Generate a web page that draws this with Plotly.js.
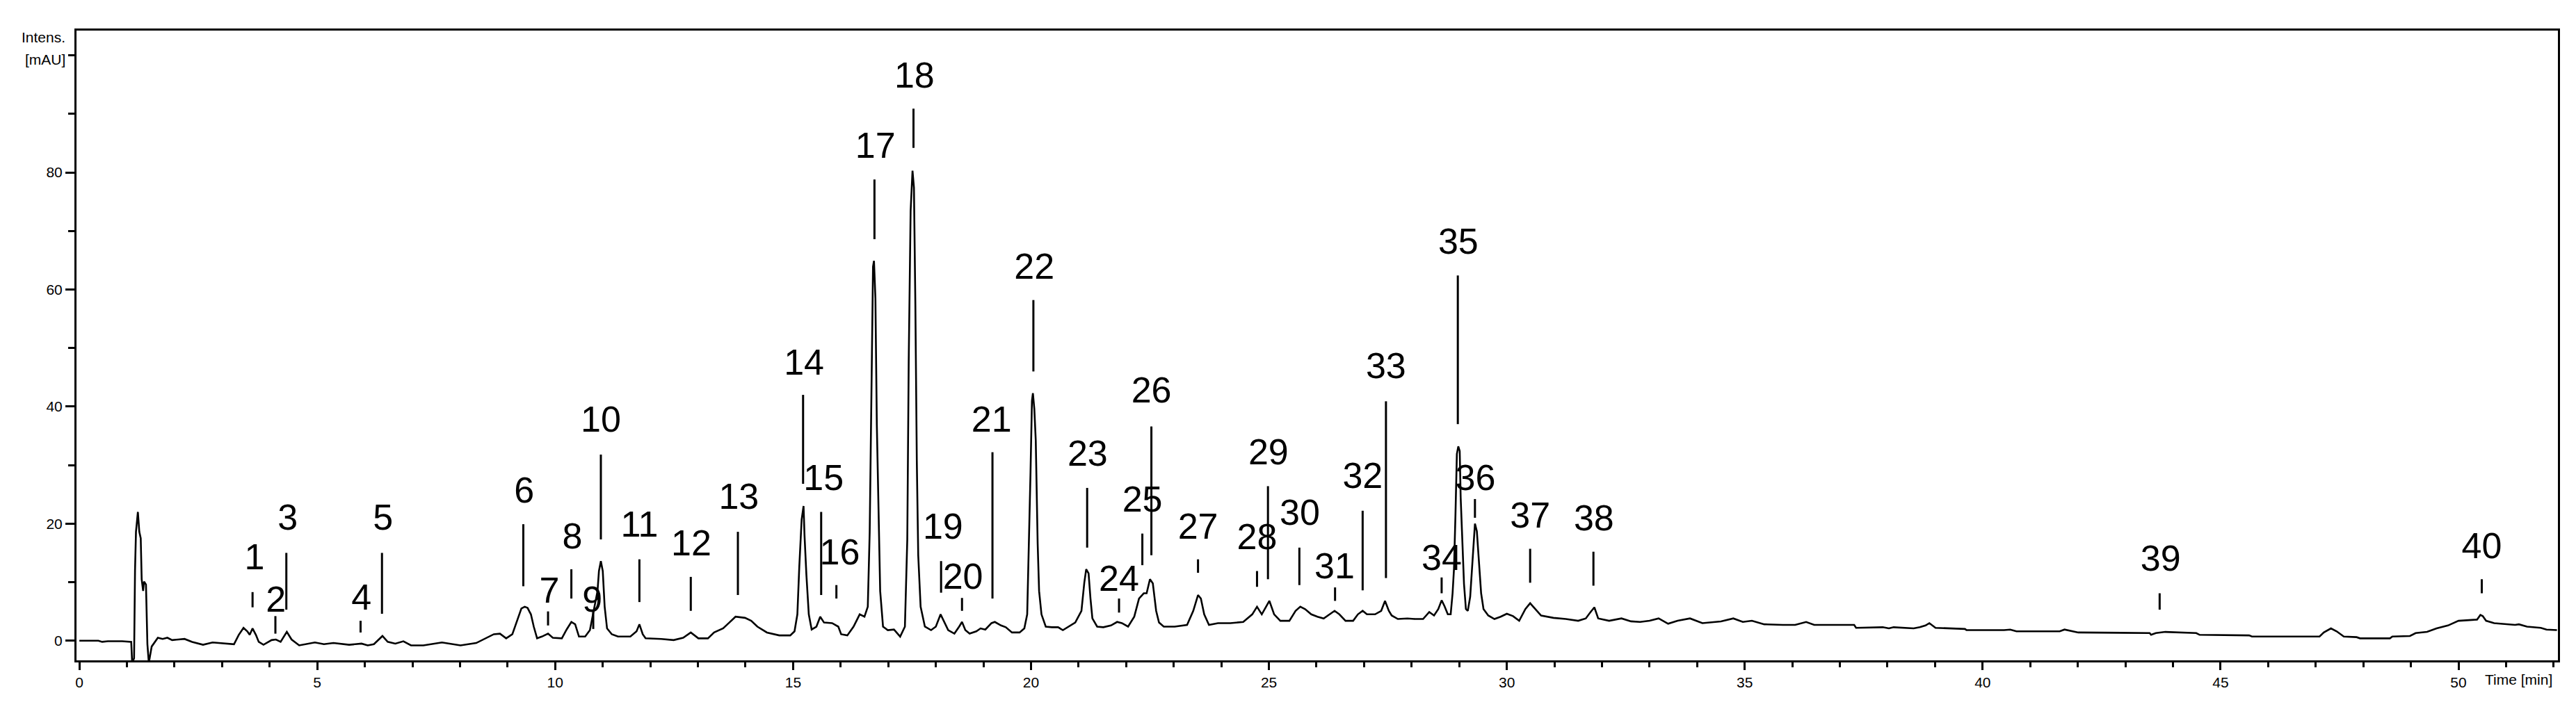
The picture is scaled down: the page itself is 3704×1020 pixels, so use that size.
<!DOCTYPE html>
<html>
<head>
<meta charset="utf-8">
<script src="https://cdn.plot.ly/plotly-3.0.1.min.js"></script>
<style>
  html, body { margin: 0; padding: 0; background: #fff; }
  #chromatogram { width: 3704px; height: 1020px; }
</style>
</head>
<body>
<div id="chromatogram"></div>
<script>
// Chromatogram trace (time in min, intensity in mAU)
let time = [
  0.00, 0.40, 0.48, 0.60, 0.90, 1.09, 1.11, 1.15, 1.17, 1.19, 1.23, 1.26, 1.29, 1.31, 1.34, 1.36, 1.40, 1.43, 1.46, 1.52,
  1.65, 1.75, 1.85, 1.95, 2.21, 2.37, 2.60, 2.80, 3.25, 3.35, 3.45, 3.53, 3.58, 3.64, 3.71, 3.77, 3.87, 4.04, 4.13, 4.23,
  4.36, 4.46, 4.62, 4.95, 5.14, 5.34, 5.67, 5.93, 6.06, 6.19, 6.37, 6.48, 6.64, 6.81, 6.97, 7.23, 7.62, 8.01, 8.34, 8.57,
  8.71, 8.84, 8.97, 9.10, 9.20, 9.29, 9.36, 9.42, 9.49, 9.55, 9.62, 9.72, 9.85, 9.95, 10.14, 10.24, 10.34, 10.42, 10.50, 10.63,
  10.73, 10.79, 10.85, 10.89, 10.92, 10.96, 11.00, 11.04, 11.09, 11.19, 11.32, 11.58, 11.71, 11.77, 11.84, 11.90, 12.23, 12.49, 12.69, 12.85,
  13.01, 13.21, 13.34, 13.53, 13.66, 13.79, 13.99, 14.12, 14.25, 14.45, 14.71, 14.94, 15.03, 15.09, 15.13, 15.18, 15.22, 15.24, 15.28, 15.33,
  15.39, 15.49, 15.57, 15.65, 15.82, 15.95, 16.01, 16.14, 16.27, 16.40, 16.50, 16.57, 16.61, 16.65, 16.68, 16.70, 16.73, 16.76, 16.80, 16.83,
  16.89, 16.99, 17.12, 17.25, 17.35, 17.40, 17.43, 17.47, 17.51, 17.54, 17.57, 17.60, 17.63, 17.68, 17.77, 17.90, 18.00, 18.10, 18.26, 18.39,
  18.49, 18.55, 18.62, 18.71, 18.85, 18.94, 19.04, 19.17, 19.24, 19.37, 19.47, 19.60, 19.76, 19.86, 19.92, 19.95, 19.99, 20.02, 20.04, 20.07,
  20.10, 20.14, 20.17, 20.22, 20.31, 20.44, 20.57, 20.67, 20.80, 20.93, 21.06, 21.12, 21.16, 21.21, 21.25, 21.29, 21.39, 21.52, 21.68, 21.81,
  21.91, 22.04, 22.17, 22.27, 22.37, 22.43, 22.50, 22.56, 22.63, 22.69, 22.79, 23.02, 23.28, 23.41, 23.51, 23.57, 23.64, 23.74, 23.93, 24.19,
  24.46, 24.65, 24.75, 24.85, 24.94, 25.01, 25.11, 25.24, 25.43, 25.56, 25.66, 25.76, 25.89, 26.02, 26.15, 26.28, 26.38, 26.48, 26.61, 26.77,
  26.87, 26.97, 27.06, 27.23, 27.36, 27.44, 27.52, 27.58, 27.71, 27.91, 28.07, 28.24, 28.37, 28.47, 28.56, 28.63, 28.69, 28.76, 28.82, 28.86,
  28.89, 28.92, 28.95, 28.98, 29.01, 29.03, 29.07, 29.10, 29.14, 29.18, 29.23, 29.27, 29.31, 29.33, 29.37, 29.41, 29.46, 29.51, 29.61, 29.74,
  29.87, 30.00, 30.13, 30.26, 30.39, 30.49, 30.59, 30.72, 30.98, 31.24, 31.50, 31.66, 31.76, 31.84, 31.92, 32.15, 32.41, 32.61, 32.80, 33.00,
  33.19, 33.39, 33.59, 33.85, 34.11, 34.50, 34.76, 34.96, 35.15, 35.41, 35.80, 36.06, 36.29, 36.46, 36.72, 37.30, 37.34, 37.90, 38.03, 38.13,
  38.55, 38.68, 38.80, 38.88, 39.01, 39.63, 39.66, 40.45, 40.58, 40.71, 41.62, 41.72, 42.01, 43.51, 43.54, 43.64, 43.84, 44.49, 44.56, 45.60,
  45.66, 47.08, 47.17, 47.32, 47.44, 47.59, 47.86, 47.93, 48.56, 48.61, 48.98, 49.10, 49.34, 49.54, 49.78, 50.00, 50.39, 50.46, 50.51, 50.58,
  50.75, 51.05, 51.19, 51.27, 51.44, 51.73, 51.85, 52.07
];
let intensity = [
  0.0, 0.0, -0.2, -0.1, -0.1, -0.2, -3.8, -3.0, 12.0, 18.6, 22.0, 18.6, 17.5, 10.5, 8.5, 10.1, 9.6, -0.6, -3.8, -1.0,
  0.5, 0.3, 0.5, 0.1, 0.3, -0.2, -0.7, -0.3, -0.6, 1.0, 2.2, 1.6, 1.0, 2.1, 1.0, -0.2, -0.7, 0.1, 0.2, -0.2,
  1.5, 0.2, -0.8, -0.3, -0.6, -0.4, -0.7, -0.5, -0.8, -0.6, 0.8, -0.2, -0.5, -0.1, -0.8, -0.8, -0.3, -0.8, -0.4, 0.5,
  1.1, 1.2, 0.4, 1.1, 3.4, 5.5, 5.8, 5.6, 4.5, 2.4, 0.4, 0.7, 1.2, 0.5, 0.4, 1.9, 3.2, 2.8, 0.7, 0.7,
  1.8, 4.5, 7.2, 8.5, 11.9, 13.6, 11.9, 5.8, 2.1, 1.1, 0.7, 0.7, 1.6, 2.8, 1.1, 0.4, 0.3, 0.1, 0.5, 1.4,
  0.4, 0.4, 1.4, 2.1, 3.1, 4.1, 3.9, 3.4, 2.4, 1.4, 0.9, 0.9, 1.6, 4.5, 12.6, 20.7, 23.0, 18.0, 11.2, 4.5,
  1.9, 2.4, 4.1, 3.1, 3.0, 2.4, 1.1, 0.9, 2.4, 4.5, 4.1, 5.8, 18.6, 45.0, 63.9, 64.9, 58.5, 36.9, 20.7, 8.5,
  2.4, 1.8, 1.9, 0.7, 2.4, 17.3, 47.7, 73.4, 80.3, 77.4, 57.2, 30.8, 14.6, 5.8, 2.4, 1.8, 2.4, 4.5, 1.8, 1.2,
  2.4, 3.2, 1.8, 1.2, 1.6, 2.1, 1.9, 3.0, 3.2, 2.6, 2.3, 1.4, 1.4, 2.1, 4.5, 13.9, 28.8, 41.0, 42.3, 39.6,
  34.2, 16.6, 8.5, 4.5, 2.4, 2.3, 2.3, 1.8, 2.4, 3.1, 5.1, 9.9, 12.2, 11.5, 7.2, 3.8, 2.4, 2.3, 2.6, 3.2,
  3.0, 2.4, 4.1, 7.2, 8.1, 8.1, 10.5, 9.8, 5.1, 3.1, 2.4, 2.4, 2.7, 5.1, 7.8, 7.2, 4.5, 2.7, 3.0, 3.0,
  3.2, 4.5, 5.8, 4.5, 5.8, 6.8, 4.5, 3.4, 3.4, 5.1, 5.8, 5.4, 4.5, 4.1, 3.8, 4.5, 5.1, 4.5, 3.4, 3.4,
  4.5, 5.1, 4.5, 4.5, 5.1, 6.8, 5.1, 4.3, 3.7, 3.8, 3.7, 3.7, 4.9, 4.3, 5.4, 6.9, 5.9, 4.5, 4.5, 8.1,
  12.3, 21.3, 31.9, 33.2, 32.4, 24.5, 16.0, 9.7, 5.4, 5.1, 7.5, 12.3, 18.1, 20.0, 18.7, 13.4, 8.1, 5.4, 4.3, 3.7,
  4.1, 4.6, 4.2, 3.4, 5.4, 6.4, 5.5, 4.3, 3.9, 3.7, 3.4, 3.8, 4.9, 5.7, 3.8, 3.4, 3.8, 3.3, 3.2, 3.4,
  3.8, 2.9, 3.4, 3.8, 3.0, 3.3, 3.8, 3.2, 3.4, 2.8, 2.7, 2.7, 3.2, 2.7, 2.7, 2.7, 2.2, 2.3, 2.1, 2.3,
  2.1, 2.3, 2.6, 3.0, 2.2, 2.0, 1.8, 1.8, 1.9, 1.6, 1.6, 1.9, 1.4, 1.3, 1.0, 1.3, 1.5, 1.3, 1.0, 0.9,
  0.7, 0.7, 1.4, 2.1, 1.6, 0.7, 0.6, 0.4, 0.4, 0.7, 0.8, 1.3, 1.5, 2.1, 2.6, 3.4, 3.6, 4.4, 4.2, 3.4,
  3.0, 2.8, 2.7, 2.8, 2.4, 2.2, 1.9, 1.8
];

// Peak labels: number, marker line position and extent, text position
let peakNo = ["1", "2", "3", "4", "5", "6", "7", "8", "9", "10",
  "11", "12", "13", "14", "15", "16", "17", "18", "19", "20",
  "21", "22", "23", "24", "25", "26", "27", "28", "29", "30",
  "31", "32", "33", "34", "35", "36", "37", "38", "39", "40"];
let lineT = [3.64, 4.12, 4.35, 5.91, 6.36, 9.33, 9.85, 10.34, 10.80, 10.96,
  11.77, 12.85, 13.84, 15.21, 15.59, 15.91, 16.71, 17.53, 18.11, 18.55,
  19.19, 20.05, 21.18, 21.85, 22.34, 22.53, 23.51, 24.75, 24.98, 25.64,
  26.39, 26.97, 27.46, 28.63, 28.97, 29.33, 30.49, 31.82, 43.72, 50.49];
let lineTop = [8.3, 4.2, 15.0, 3.4, 15.0, 19.9, 5.0, 12.2, 5.0, 31.8,
  13.9, 10.9, 18.6, 42.0, 22.0, 9.5, 78.8, 90.9, 13.6, 7.3,
  32.2, 58.2, 26.1, 7.2, 18.3, 36.6, 13.9, 11.9, 26.4, 15.9,
  9.1, 22.2, 40.9, 10.8, 62.4, 24.2, 15.7, 15.2, 8.1, 10.5];
let lineBottom = [5.7, 1.2, 5.3, 1.4, 4.6, 9.3, 2.6, 7.2, 2.0, 17.3,
  6.6, 5.1, 7.8, 26.8, 7.8, 7.2, 68.6, 84.2, 8.2, 5.1,
  7.2, 46.0, 15.9, 4.8, 12.9, 14.6, 11.6, 9.2, 10.5, 9.5,
  6.8, 8.6, 10.7, 8.1, 37.0, 21.0, 9.9, 9.4, 5.3, 8.1];
let textT = [3.68, 4.13, 4.38, 5.93, 6.38, 9.35, 9.88, 10.36, 10.78, 10.96,
  11.77, 12.86, 13.86, 15.23, 15.64, 15.98, 16.73, 17.55, 18.15, 18.57,
  19.17, 20.07, 21.19, 21.85, 22.34, 22.53, 23.51, 24.75, 24.99, 25.65,
  26.38, 26.97, 27.46, 28.63, 28.98, 29.34, 30.49, 31.83, 43.74, 50.49];
let textY = [13.7, 6.5, 20.5, 6.8, 20.5, 25.1, 8.0, 17.3, 6.5, 37.2,
  19.3, 16.1, 24.1, 47.0, 27.3, 14.6, 84.1, 96.0, 19.0, 10.4,
  37.2, 63.4, 31.4, 10.1, 23.6, 42.2, 19.0, 17.2, 31.7, 21.4,
  12.2, 27.6, 46.4, 13.6, 67.7, 27.3, 20.9, 20.4, 13.5, 15.7];

// Axis ticks
let xTicks = [0, 5, 10, 15, 20, 25, 30, 35, 40, 45, 50];
let yTicks = [0, 20, 40, 60, 80];

const FONT = "Liberation Sans, Arial, sans-serif";

function createChromatogram() {
  let markX = [];
  let markY = [];
  for (let i = 0; i < peakNo.length; i++) {
    markX.push(lineT[i], lineT[i], null);
    markY.push(lineBottom[i], lineTop[i], null);
  }

  let traces = [{
    x: time,
    y: intensity,
    type: "scatter",
    mode: "lines",
    line: { color: "#000", width: 2.6 },
    hoverinfo: "skip"
  }, {
    x: markX,
    y: markY,
    type: "scatter",
    mode: "lines",
    line: { color: "#000", width: 3 },
    hoverinfo: "skip"
  }, {
    x: textT,
    y: textY,
    text: peakNo,
    type: "scatter",
    mode: "text",
    textposition: "middle center",
    textfont: { family: FONT, size: 52, color: "#000" },
    hoverinfo: "skip"
  }];

  let layout = {
    width: 3704,
    height: 1020,
    margin: { l: 110, r: 26, t: 44, b: 70 },
    paper_bgcolor: "#fff",
    plot_bgcolor: "#fff",
    showlegend: false,
    hovermode: false,
    font: { family: FONT, size: 21, color: "#000" },
    xaxis: {
      range: [-0.06, 52.09],
      tickmode: "array",
      tickvals: xTicks,
      ticks: "outside",
      ticklen: 11,
      tickwidth: 3,
      tickcolor: "#000",
      showgrid: false,
      zeroline: false,
      showline: true,
      linewidth: 3,
      linecolor: "#000",
      mirror: true,
      tickfont: { family: FONT, size: 21 },
      minor: { tickmode: "linear", tick0: 0, dtick: 1, ticks: "outside", ticklen: 7, tickwidth: 3, tickcolor: "#000", showgrid: false }
    },
    yaxis: {
      range: [-3.36, 104.24],
      tickmode: "array",
      tickvals: yTicks,
      ticks: "outside",
      ticklen: 13,
      tickwidth: 3,
      tickcolor: "#000",
      showgrid: false,
      zeroline: false,
      showline: true,
      linewidth: 3,
      linecolor: "#000",
      mirror: true,
      tickfont: { family: FONT, size: 21 },
      minor: { tickmode: "linear", tick0: 0, dtick: 10, ticks: "outside", ticklen: 9, tickwidth: 3, tickcolor: "#000", showgrid: false }
    },
    annotations: [{
      text: "Intens.",
      xref: "paper", yref: "paper", x: 0, y: 1,
      xanchor: "right", yanchor: "middle", xshift: -14, yshift: -9,
      showarrow: false, font: { family: FONT, size: 21, color: "#000" }
    }, {
      text: "[mAU]",
      xref: "paper", yref: "paper", x: 0, y: 1,
      xanchor: "right", yanchor: "middle", xshift: -14, yshift: -41,
      showarrow: false, font: { family: FONT, size: 21, color: "#000" }
    }, {
      text: "Time [min]",
      xref: "paper", yref: "paper", x: 0.9842, y: 0,
      xanchor: "center", yanchor: "middle", yshift: -27,
      showarrow: false, font: { family: FONT, size: 21, color: "#000" }
    }]
  };

  Plotly.newPlot("chromatogram", traces, layout, { staticPlot: true, displayModeBar: false });
}

createChromatogram();
</script>
</body>
</html>
